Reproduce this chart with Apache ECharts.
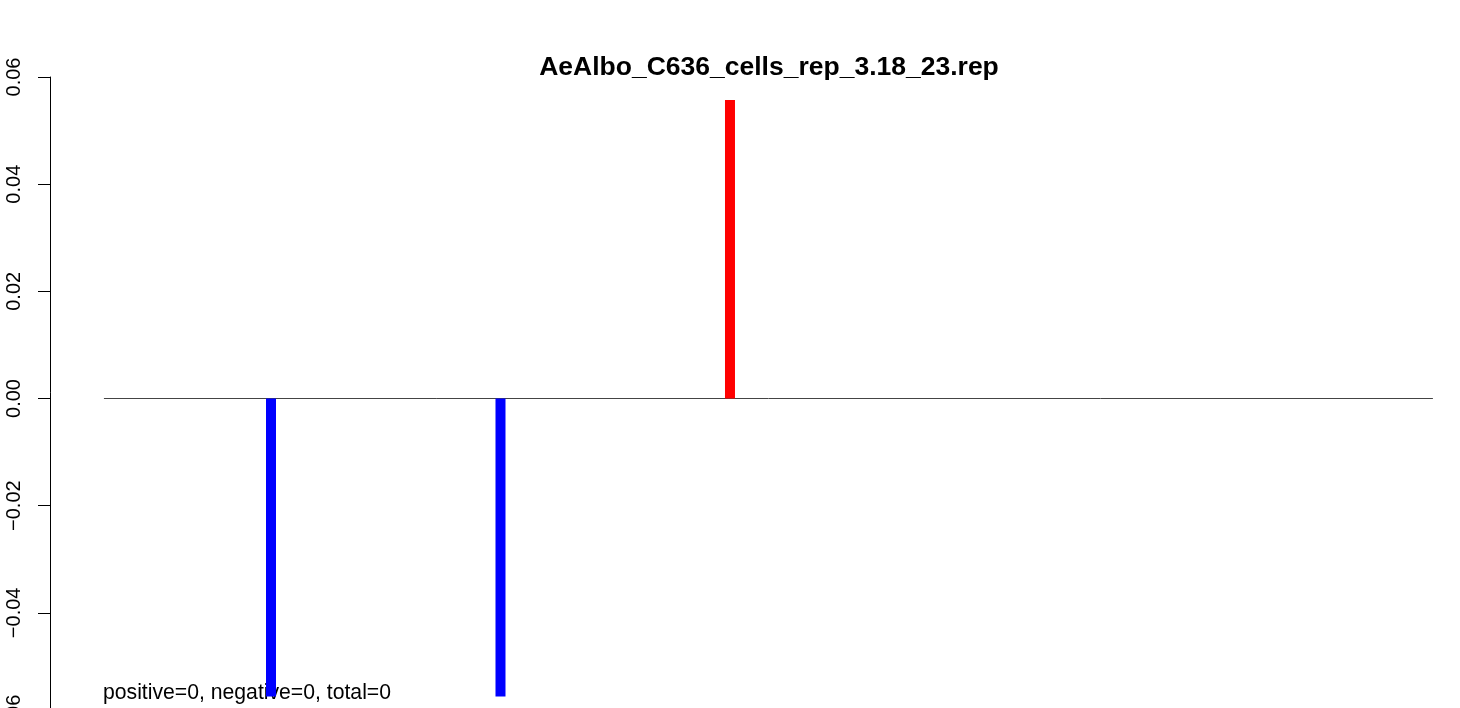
<!DOCTYPE html>
<html>
<head>
<meta charset="utf-8">
<script src="https://cdn.jsdelivr.net/npm/echarts@6/dist/echarts.min.js"></script>
<style>
html,body{margin:0;padding:0;background:#fff;}
#chart{width:1460px;height:708px;}
</style>
</head>
<body>
<div id="chart"></div>
<script>
// ---- data ----
const chartTitle = 'AeAlbo_C636_cells_rep_3.18_23.rep';
const footerText = 'positive=0, negative=0, total=0';
const barPositions = [1, 2, 3];
const barValues = [-0.0556, -0.0556, 0.0557];
const zeroLineRange = [0.272, 6.063];
const yTicks = [-0.06, -0.04, -0.02, 0.00, 0.02, 0.04, 0.06];
const yTickLabels = ['\u22120.06', '\u22120.04', '\u22120.02', '0.00', '0.02', '0.04', '0.06'];

const FONT = "'Liberation Sans', Arial, Helvetica, sans-serif";
const chart = echarts.init(document.getElementById('chart'), null, {renderer: 'canvas'});

const barData = barPositions.map((x, i) => [x, barValues[i]]);
const zeroLine = zeroLineRange.map(x => [x, 0]);

chart.setOption({
  backgroundColor: '#ffffff',
  animation: false,
  title: [
    {
      text: chartTitle,
      left: 764,
      top: 49,
      textAlign: 'center',
      textStyle: {fontFamily: FONT, fontSize: 26.5, fontWeight: 'bold', color: '#000'}
    },
    {
      text: footerText,
      left: 98,
      top: 678,
      z: 0,
      textStyle: {fontFamily: FONT, fontSize: 21.2, fontWeight: 'normal', color: '#000'}
    }
  ],
  grid: {left: 50, top: 77, width: 1410, height: 643, containLabel: false, outerBoundsMode: 'none'},
  xAxis: {
    type: 'value',
    min: 0.037,
    max: 6.181,
    show: false
  },
  yAxis: {
    type: 'value',
    min: -0.06,
    max: 0.06,
    interval: 0.02,
    splitLine: {show: false},
    axisLine: {show: true, lineStyle: {color: '#000', width: 1}},
    axisTick: {show: true, length: 12, lineStyle: {color: '#000', width: 1}},
    axisLabel: {
      rotate: 90,
      margin: 26,
      fontFamily: FONT,
      fontSize: 20,
      color: '#000',
      formatter: function (v) {
        const idx = yTicks.findIndex(t => Math.abs(t - v) < 1e-9);
        return idx >= 0 ? yTickLabels[idx] : '';
      }
    }
  },
  series: [
    {
      type: 'line',
      data: zeroLine,
      symbol: 'none',
      lineStyle: {color: '#444', width: 1},
      z: 1,
      silent: true
    },
    {
      type: 'bar',
      data: barData,
      barWidth: 10,
      z: 3,
      itemStyle: {
        color: function (p) { return p.value[1] < 0 ? '#0000ff' : '#ff0000'; }
      }
    }
  ]
});
</script>
</body>
</html>
